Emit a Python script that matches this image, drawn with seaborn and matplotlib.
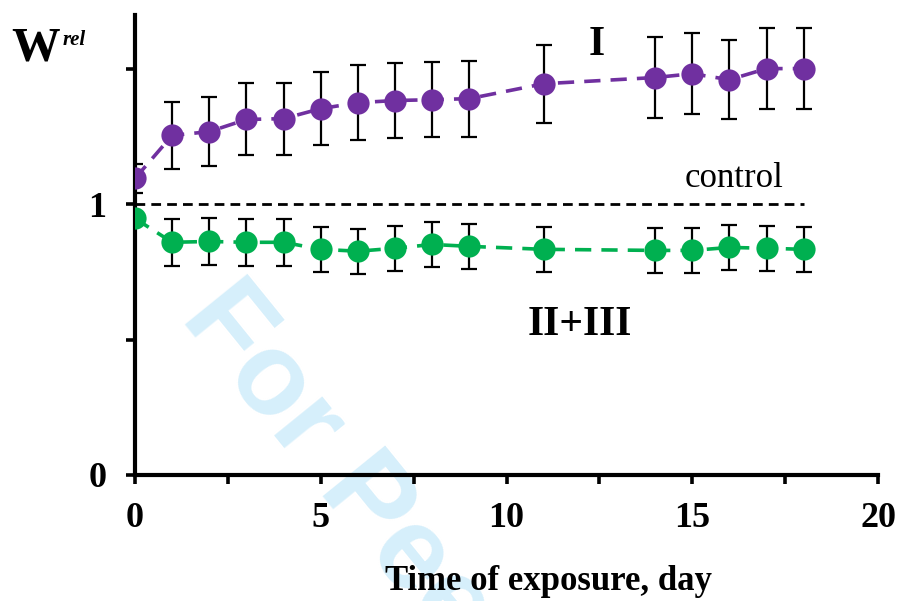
import numpy as np
import pandas as pd
import seaborn as sns
import matplotlib.pyplot as plt
from matplotlib.ticker import MultipleLocator

# Relative values
days = [0, 1, 2, 3, 4, 5, 6, 7, 8, 9, 11, 14, 15, 16, 17, 18]
w_I = [1.096, 1.255, 1.269, 1.314, 1.317, 1.354, 1.376, 1.384, 1.387, 1.391,
       1.446, 1.469, 1.483, 1.461, 1.502, 1.502]
err_I = [0.055, 0.125, 0.127, 0.133, 0.133, 0.135, 0.138, 0.138, 0.138, 0.140,
         0.144, 0.148, 0.149, 0.146, 0.149, 0.149]
w_II_III = [0.948, 0.860, 0.863, 0.860, 0.860, 0.834, 0.827, 0.838, 0.852, 0.845,
            0.834, 0.830, 0.830, 0.841, 0.838, 0.834]
err_II_III = [0.0, 0.087, 0.087, 0.087, 0.087, 0.083, 0.083, 0.083, 0.083, 0.083,
              0.083, 0.083, 0.083, 0.083, 0.083, 0.083]
control_level = 1.0
control_span = [0, 18]

df = pd.DataFrame({
    "day": days * 2,
    "w": w_I + w_II_III,
    "err": err_I + err_II_III,
    "group": ["I"] * len(days) + ["II+III"] * len(days),
})
colors = {"I": "#7030A0", "II+III": "#00B050"}

sns.set_theme(style="ticks")
plt.rcParams["font.family"] = ["Liberation Serif", "DejaVu Serif"]
plt.rcParams.update({"text.color": "black", "axes.labelcolor": "black",
                     "xtick.color": "black", "ytick.color": "black"})

fig = plt.figure(figsize=(9, 6.01), dpi=100)
fig.patch.set_facecolor("white")

# watermark behind everything
fig.text(0.199, 0.470, "For Peer Review", rotation=-51, rotation_mode="anchor",
         ha="left", va="baseline", fontsize=84, fontweight="bold",
         family="Liberation Sans", color="#D6EFFB", zorder=-1)

ax = fig.add_axes([0.15, 0.2097, 0.8256, 0.7653])
ax.set_facecolor("none")

ax.hlines(control_level, control_span[0], control_span[1], colors="black",
          linestyles=(0, (3.5, 2.2)), linewidth=2.0, zorder=2)

for grp, sub in df.groupby("group"):
    ax.errorbar(sub["day"], sub["w"], yerr=sub["err"], fmt="none",
                ecolor="black", elinewidth=1.6, capsize=5.5, capthick=1.6, zorder=3)
    sns.lineplot(data=sub, x="day", y="w", ax=ax, color=colors[grp],
                 marker="o", markersize=16, markeredgewidth=0,
                 linewidth=2.6, linestyle=(0, (4.5, 2.8)), zorder=4)

ax.set_xlim(0, 20)
ax.set_ylim(0, 1.70)
ax.set_xticks([0, 5, 10, 15, 20])
ax.xaxis.set_minor_locator(MultipleLocator(2.5))
ax.set_yticks([0, 1])
ax.yaxis.set_minor_locator(MultipleLocator(0.5))

sns.despine(ax=ax)
for side in ["left", "bottom"]:
    ax.spines[side].set_linewidth(3.0)
    ax.spines[side].set_color("black")
ax.tick_params(which="both", direction="out", width=2.6, length=6.5, color="black")
ax.tick_params(axis="x", which="major", pad=13)
ax.tick_params(axis="y", which="major", pad=14)
for lab in ax.get_xticklabels() + ax.get_yticklabels():
    lab.set_fontsize(26)
    lab.set_fontweight("bold")

ax.set_xlabel("Time of exposure, day", fontsize=25, fontweight="bold")
ax.xaxis.set_label_coords(0.556, -0.196)
ax.set_ylabel("")

fig.text(0.013, 0.900, "W", fontsize=35, fontweight="bold")
fig.text(0.069, 0.925, "rel", fontsize=15, fontweight="bold", fontstyle="italic")

ax.text(0.622, 0.934, "I", transform=ax.transAxes, fontsize=30, fontweight="bold",
        ha="center", va="center")
ax.text(0.598, 0.326, "II+III", transform=ax.transAxes, fontsize=30, fontweight="bold",
        ha="center", va="center")
ax.text(0.806, 0.644, "control", transform=ax.transAxes, fontsize=25,
        ha="center", va="center")

fig.savefig("out.png", dpi=100, facecolor="white")
